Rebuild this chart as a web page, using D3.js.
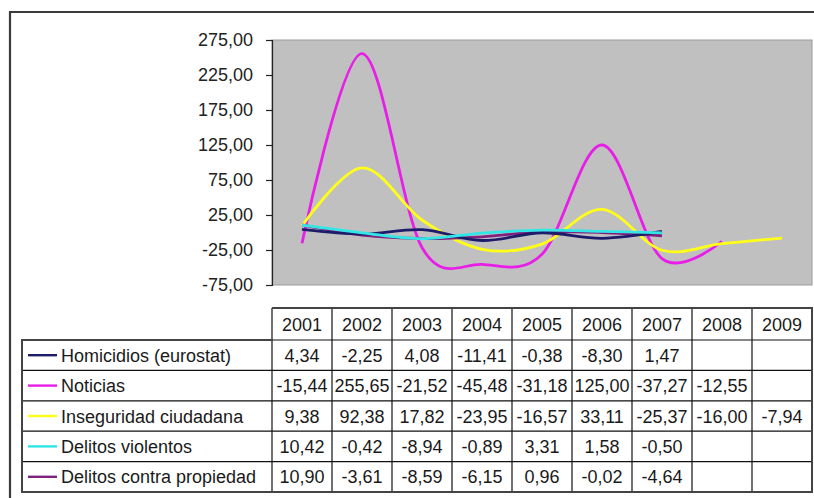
<!DOCTYPE html>
<html><head><meta charset="utf-8">
<script src="https://cdn.jsdelivr.net/npm/d3@7"></script>
<style>
html,body{margin:0;padding:0;background:#fff;}
svg{display:block;font-family:"Liberation Sans",Arial,sans-serif;}
</style></head>
<body>
<svg id="chart" width="814" height="498"></svg>
<script>
const years = ["2001","2002","2003","2004","2005","2006","2007","2008","2009"];
const seriesNames = ["Homicidios (eurostat)","Noticias","Inseguridad ciudadana","Delitos violentos","Delitos contra propiedad"];
const seriesColors = ["#1c1c6b","#e81ee8","#ffff1a","#33e6e6","#80207f"];
const homicidios = [4.34,-2.25,4.08,-11.41,-0.38,-8.30,1.47,null,null];
const noticias = [-15.44,255.65,-21.52,-45.48,-31.18,125.00,-37.27,-12.55,null];
const inseguridad = [9.38,92.38,17.82,-23.95,-16.57,33.11,-25.37,-16.00,-7.94];
const violentos = [10.42,-0.42,-8.94,-0.89,3.31,1.58,-0.50,null,null];
const propiedad = [10.90,-3.61,-8.59,-6.15,0.96,-0.02,-4.64,null,null];
const yTicks = [275,225,175,125,75,25,-25,-75];

const seriesValues = [homicidios,noticias,inseguridad,violentos,propiedad];
// draw order (back to front)
const drawOrder = [1,2,4,0,3];

const svg = d3.select("#chart");
const plotL = 272, plotR = 812, plotT = 40, plotB = 285;

const x = d3.scaleBand().domain(years).range([plotL, plotR]);
const y = d3.scaleLinear().domain([-75, 275]).range([plotB, plotT]);
const fmt = v => v.toFixed(2).replace(".", ",");

// outer frame
svg.append("path").attr("d","M10,498 L10,12 L814,12")
  .attr("fill","none").attr("stroke","#3a3a3a").attr("stroke-width",2.2);

// plot area
svg.append("rect").attr("x",plotL).attr("y",plotT).attr("width",plotR-plotL).attr("height",plotB-plotT)
  .attr("fill","#c0c0c0").attr("stroke","#9a9a9a").attr("stroke-width",1);

// y axis
const yAxis = d3.axisLeft(y).tickValues(yTicks).tickFormat(fmt).tickSize(6).tickPadding(13);
const ga = svg.append("g").attr("transform",`translate(${plotL},0)`).call(yAxis);
ga.select(".domain").attr("stroke","#222").attr("stroke-width",1.2);
ga.selectAll(".tick line").attr("stroke","#222").attr("stroke-width",1.2);
ga.selectAll(".tick text").attr("fill","#222").style("font-size","18px")
  .style("font-family","'Liberation Sans',Arial,sans-serif");

// lines
const line = d3.line()
  .defined(d => d.v !== null)
  .x(d => x(d.year) + x.bandwidth()/2)
  .y(d => y(d.v))
  .curve(d3.curveCatmullRom.alpha(0));

const gl = svg.append("g");
drawOrder.forEach(i => {
  const data = years.map((yr, j) => ({year: yr, v: seriesValues[i][j]}));
  gl.append("path").datum(data).attr("d", line)
    .attr("fill","none").attr("stroke", seriesColors[i]).attr("stroke-width",2.8)
    .attr("stroke-linejoin","round").attr("stroke-linecap","butt");
});

// table
const tblL = 22, headT = 308, headB = 340, tblB = 492;
const rowH = (tblB - headB) / seriesNames.length;
const tg = svg.append("g");
const textStyle = s => s.attr("fill","#1a1a1a").style("font-size","18px");

// header cells
years.forEach(yr => {
  tg.append("text").attr("x", x(yr) + x.bandwidth()/2).attr("y", (headT+headB)/2 + 6.5)
    .attr("text-anchor","middle").text(yr).call(textStyle);
});
// rows
seriesNames.forEach((name, i) => {
  const cy = headB + rowH*i + rowH/2;
  tg.append("line").attr("x1",28).attr("x2",57).attr("y1",cy).attr("y2",cy)
    .attr("stroke", seriesColors[i]).attr("stroke-width",2.4);
  tg.append("text").attr("x",61).attr("y",cy+6.5).text(name).call(textStyle);
  years.forEach((yr, j) => {
    const v = seriesValues[i][j];
    if (v === null) return;
    tg.append("text").attr("x", x(yr) + x.bandwidth()/2).attr("y", cy+6.5)
      .attr("text-anchor","middle").text(fmt(v)).call(textStyle);
  });
});
// grid lines
const gridCol = "#111";
[headB].concat(d3.range(1, seriesNames.length).map(k => headB + rowH*k)).forEach(yy => {
  tg.append("line").attr("x1",tblL).attr("x2",plotR).attr("y1",yy).attr("y2",yy)
    .attr("stroke",gridCol).attr("stroke-width",1.2);
});
years.forEach(yr => {
  tg.append("line").attr("x1",x(yr)).attr("x2",x(yr)).attr("y1",headT).attr("y2",tblB)
    .attr("stroke",gridCol).attr("stroke-width",1.2);
});
// outer borders
tg.append("path").attr("d",`M${plotL},${headT} L${plotR},${headT} L${plotR},${tblB} L${tblL},${tblB} L${tblL},${headB} L${plotL},${headB}`)
  .attr("fill","none").attr("stroke","#444").attr("stroke-width",2);
</script>
</body></html>
